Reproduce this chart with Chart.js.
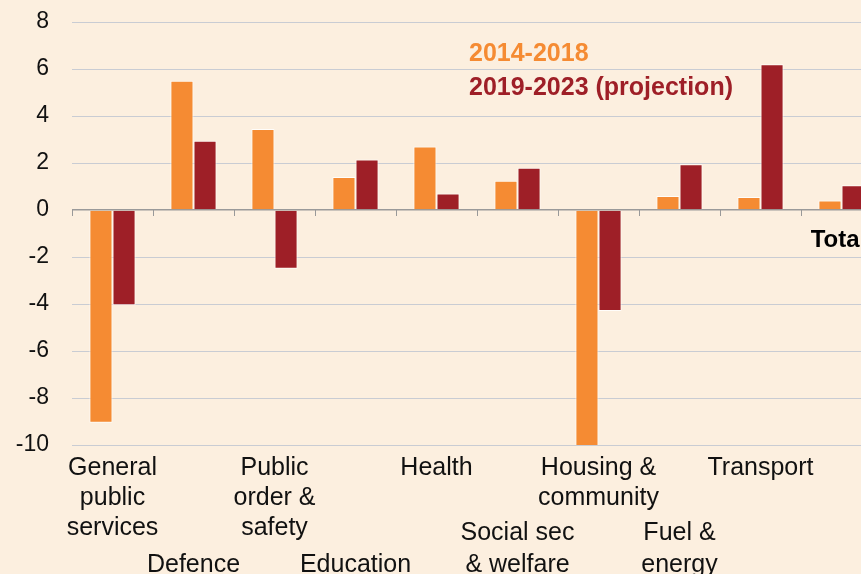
<!DOCTYPE html>
<html>
<head>
<meta charset="utf-8">
<script src="https://cdn.jsdelivr.net/npm/chart.js@4.4.1/dist/chart.umd.min.js"></script>
<style>
  html, body { margin: 0; padding: 0; background: #fcefdf; overflow: hidden; }
  #wrap { position: relative; width: 882px; height: 574px; }
</style>
</head>
<body>
<div id="wrap"><canvas id="gasto"></canvas></div>
<script>
const categorias = [
  "General public services", "Defence", "Public order & safety", "Education", "Health",
  "Social sec & welfare", "Housing & community", "Fuel & energy", "Transport", "Total"
];
// etiquetas del eje, escalonadas (las impares van abajo)
const etiquetas = [
  ["General", "public", "services"],
  ["", "", "", "Defence"],
  ["Public", "order &", "safety"],
  ["", "", "", "Education"],
  ["Health"],
  ["", "", "Social sec", "& welfare"],
  ["Housing &", "community"],
  ["", "", "Fuel &", "energy"],
  ["Transport"],
  [""]
];
const valores2014_2018 = [-9.05, 5.5, 3.45, 1.4, 2.7, 1.25, -10.5, 0.6, 0.55, 0.4];
const valores2019_2023 = [-4.05, 2.95, -2.5, 2.15, 0.7, 1.8, -4.3, 1.95, 6.2, 1.05];
const etiquetasSeries = ["2014-2018", "2019-2023 (projection)"];
const ticksY = [-10, -8, -6, -4, -2, 0, 2, 4, 6, 8];

const naranja = "#f58b33";
const granate = "#9e1f27";
const fuente = "'Liberation Sans', Arial, sans-serif";

const plugin_decoracion = {
  id: "decoracion",
  afterDatasetsDraw: (chart) => {
    const ctx = chart.ctx;
    const x = chart.scales.x;
    const y = chart.scales.y;
    const y0 = y.getPixelForValue(0);
    const paso = x.getPixelForValue(1) - x.getPixelForValue(0);

    // marcas del eje en la línea del cero
    ctx.save();
    ctx.strokeStyle = "#999999";
    ctx.lineWidth = 1;
    for (let i = 0; i <= categorias.length; i++) {
      const px = Math.round(x.getPixelForValue(0) - paso / 2 + i * paso) + 0.5;
      ctx.beginPath();
      ctx.moveTo(px, y0);
      ctx.lineTo(px, y0 + 6);
      ctx.stroke();
    }

    // etiqueta "Total" junto al cero
    ctx.fillStyle = "#000000";
    ctx.font = "bold 24px " + fuente;
    ctx.textAlign = "center";
    ctx.textBaseline = "middle";
    ctx.fillText(categorias[9], x.getPixelForValue(9) - 3, y0 + 30);

    // leyenda como texto coloreado
    ctx.textAlign = "left";
    ctx.font = "bold 25px " + fuente;
    chart.data.datasets.forEach((ds, i) => {
      ctx.fillStyle = ds.backgroundColor;
      ctx.fillText(ds.label, 469, 54 + i * 34);
    });
    ctx.restore();
  },
};

const ctx = document.getElementById("gasto").getContext("2d");
new Chart(ctx, {
  type: "bar",
  data: {
    labels: etiquetas,
    datasets: [
      {
        label: etiquetasSeries[0],
        data: valores2014_2018,
        backgroundColor: naranja,
        borderColor: "rgba(255,255,255,0.85)",
        borderWidth: 1,
        categoryPercentage: 0.57,
        barPercentage: 1,
      },
      {
        label: etiquetasSeries[1],
        data: valores2019_2023,
        backgroundColor: granate,
        borderColor: "rgba(255,255,255,0.85)",
        borderWidth: 1,
        categoryPercentage: 0.57,
        barPercentage: 1,
      },
    ],
  },
  options: {
    responsive: true,
    maintainAspectRatio: false,
    animation: false,
    layout: { padding: { top: 22, left: 0, right: 0, bottom: 0 } },
    plugins: {
      legend: { display: false },
      tooltip: { enabled: false },
    },
    scales: {
      x: {
        grid: { display: false, drawTicks: false },
        border: { display: false },
        ticks: {
          color: "#111111",
          autoSkip: false,
          maxRotation: 0,
          padding: 8,
          font: (c) => ({
            family: fuente,
            size: 25,
            lineHeight: c.index % 2 === 1 ? 1.28 : 1.2,
          }),
        },
        afterFit: (scale) => { scale.height = 129; },
      },
      y: {
        min: ticksY[0],
        max: ticksY[ticksY.length - 1],
        afterBuildTicks: (scale) => { scale.ticks = ticksY.map((v) => ({ value: v })); },
        grid: {
          drawTicks: false,
          color: (c) => (c.tick && c.tick.value === 0 ? "#9a9a9a" : "#c9ccd3"),
          lineWidth: (c) => (c.tick && c.tick.value === 0 ? 1.5 : 1),
        },
        border: { display: false },
        ticks: {
          color: "#111111",
          padding: 23,
          font: { family: fuente, size: 23 },
        },
        afterFit: (scale) => {
          scale.width = 72;
          scale.paddingTop = 0;
          scale.paddingBottom = 0;
        },
      },
    },
  },
  plugins: [plugin_decoracion],
});
</script>
</body>
</html>
